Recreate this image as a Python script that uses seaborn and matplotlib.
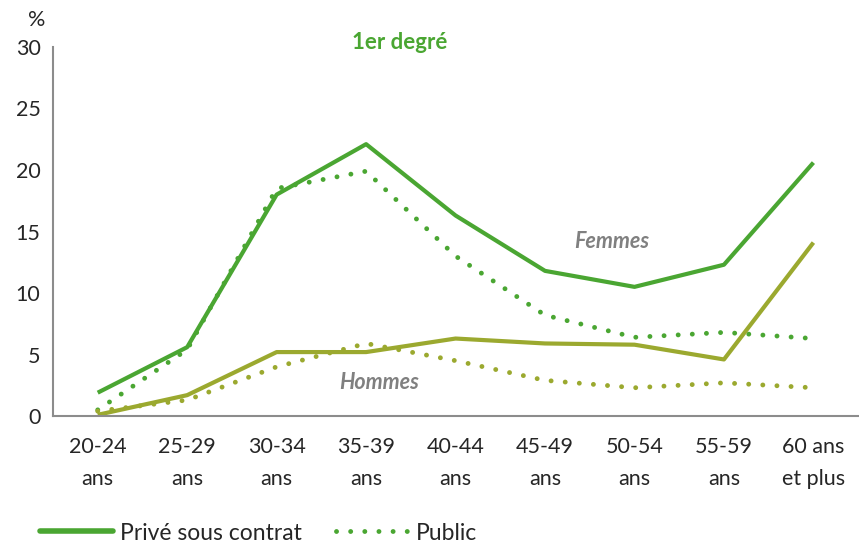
import pandas as pd
import seaborn as sns
import matplotlib.pyplot as plt
from matplotlib.lines import Line2D

ages = ["20-24\nans", "25-29\nans", "30-34\nans", "35-39\nans", "40-44\nans",
        "45-49\nans", "50-54\nans", "55-59\nans", "60 ans\net plus"]

femmes_prive = [1.9, 5.6, 18.0, 22.1, 16.3, 11.8, 10.5, 12.3, 20.6]
femmes_public = [0.5, 5.4, 18.5, 19.9, 13.0, 8.2, 6.4, 6.8, 6.3]
hommes_prive = [0.1, 1.7, 5.2, 5.2, 6.3, 5.9, 5.8, 4.6, 14.1]
hommes_public = [0.4, 1.3, 4.0, 5.9, 4.5, 2.9, 2.3, 2.7, 2.3]

vert = "#4AA632"
olive = "#9BA92F"
gris_axe = "#8C8C8C"

sns.set_theme(style="white")
plt.rcParams["font.family"] = ["Lato", "DejaVu Sans"]

lignes = []
for sexe, secteur, valeurs in [("Femmes", "Privé sous contrat", femmes_prive),
                               ("Femmes", "Public", femmes_public),
                               ("Hommes", "Privé sous contrat", hommes_prive),
                               ("Hommes", "Public", hommes_public)]:
    for i, v in enumerate(valeurs):
        lignes.append({"pos": i, "taux": v, "sexe": sexe, "secteur": secteur})
df = pd.DataFrame(lignes)

fig = plt.figure(figsize=(8.59, 5.46), dpi=100)
ax = fig.add_axes([0.0617, 0.238, 0.9373, 0.676])

sns.lineplot(data=df, x="pos", y="taux", hue="sexe", style="secteur",
             palette={"Femmes": vert, "Hommes": olive},
             dashes={"Privé sous contrat": "", "Public": (0.01, 2.9)},
             linewidth=3, legend=False, ax=ax)
for l in ax.get_lines():
    l.set_dash_capstyle("round")
    l.set_solid_capstyle("butt")
    if l.get_linestyle() != "-":
        l.set_linewidth(3.5)

ax.set_xlim(-0.5, len(ages) - 0.5)
ax.set_ylim(0, 30)
ax.set_yticks(range(0, 31, 5))
ax.set_xticks(range(len(ages)))
ax.set_xticklabels(ages, fontsize=15.5, color="#262626", linespacing=1.75)
ax.set_xticks([i - 0.5 for i in range(len(ages) + 1)], minor=True)
ax.tick_params(axis="x", which="major", length=0, pad=15)
ax.tick_params(axis="x", which="minor", length=6, width=1.2, color=gris_axe, direction="out")
ax.tick_params(axis="y", length=5, width=1.2, color=gris_axe, direction="out",
               labelsize=15.5, labelcolor="#262626", pad=4)
ax.set_xlabel("")
ax.set_ylabel("")
for s in ["top", "right"]:
    ax.spines[s].set_visible(False)
for s in ["left", "bottom"]:
    ax.spines[s].set_color(gris_axe)
    ax.spines[s].set_linewidth(1.5)

ax.text(5.75, 14.2, "Femmes", color="#808080", fontsize=15.5, fontweight="bold",
        fontstyle="italic", ha="center", va="center")
ax.text(3.15, 2.7, "Hommes", color="#808080", fontsize=15.5, fontweight="bold",
        fontstyle="italic", ha="center", va="center")

fig.text(400 / 859, 1 - 43 / 546, "1er degré", color=vert, fontsize=16,
         fontweight="bold", ha="center", va="center")
fig.text(37 / 859, 1 - 20 / 546, "%", color="#262626", fontsize=15.5,
         ha="center", va="center")

handles = [Line2D([], [], color=vert, lw=4),
           Line2D([], [], color=vert, lw=3.5, linestyle=(0, (0.01, 2.9)),
                  dash_capstyle="round")]
fig.legend(handles, ["Privé sous contrat", "Public"], loc="center left",
           bbox_to_anchor=(0.022, 1 - 533 / 546), ncol=2, frameon=False,
           fontsize=16.5, handlelength=3.2, columnspacing=1.5, handletextpad=0.3)

fig.savefig("out.png", dpi=100)
